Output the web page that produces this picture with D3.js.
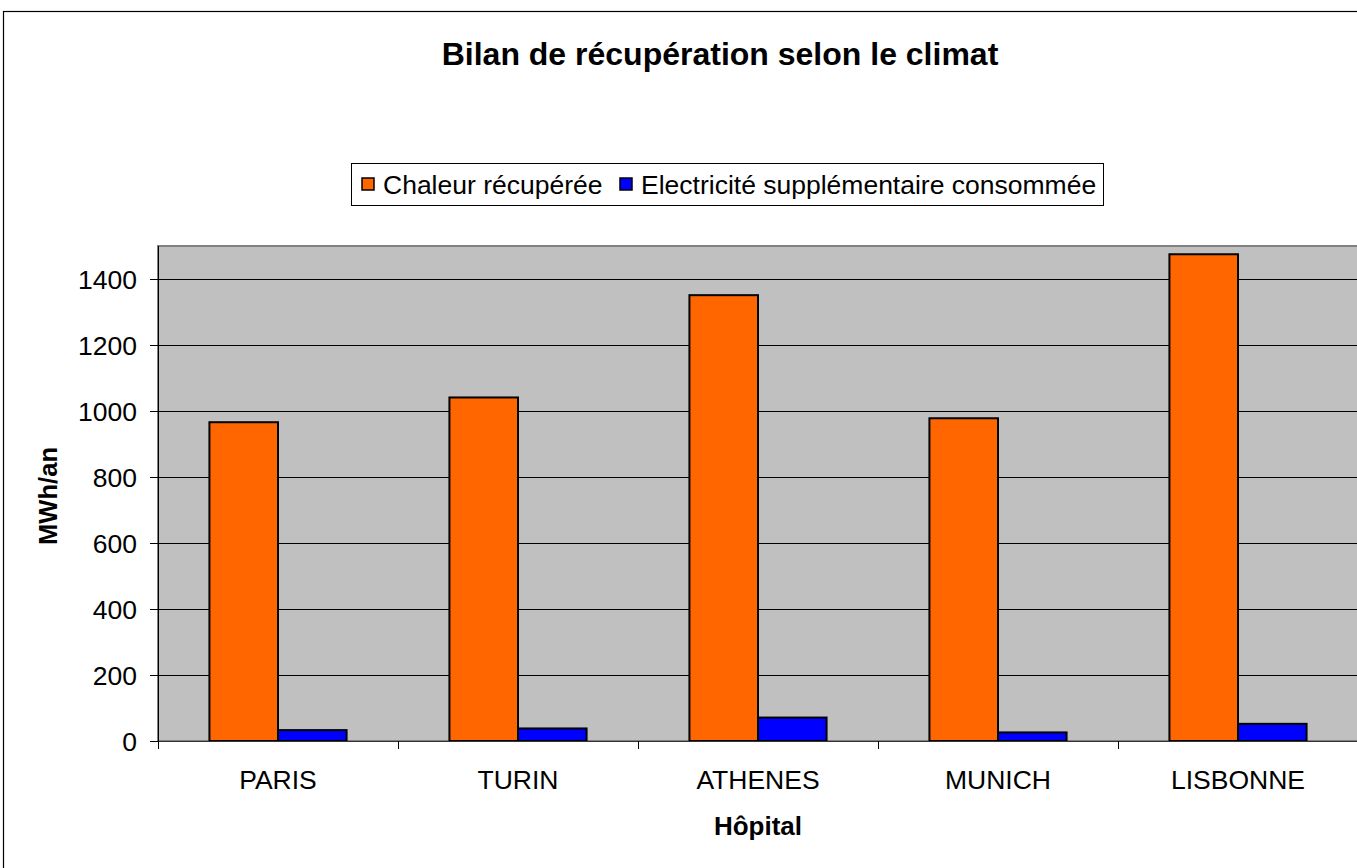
<!DOCTYPE html>
<html>
<head>
<meta charset="utf-8">
<script src="https://cdn.jsdelivr.net/npm/d3@7"></script>
<style>
  html, body { margin: 0; padding: 0; background: #fff; }
  svg { display: block; font-family: "Liberation Sans", Arial, sans-serif; }
</style>
</head>
<body>
<div id="chart"></div>
<script>
const categories = ["PARIS", "TURIN", "ATHENES", "MUNICH", "LISBONNE"];
const seriesNames = ["Chaleur récupérée", "Electricité supplémentaire consommée"];
const chaleur = [966, 1041, 1351, 978, 1475];
const electricite = [33, 38, 71, 26, 52];
const yTicks = [0, 200, 400, 600, 800, 1000, 1200, 1400];
const seriesColors = ["#ff6600", "#0000ff"];

const W = 1357, H = 868;
const margin = {left: 158, top: 246, right: -1, bottom: 127};
const FS = 26.5;

const svg = d3.select("#chart").append("svg")
    .attr("width", W)
    .attr("height", H);

// outer chart border
svg.append("rect")
    .attr("x", 3.5).attr("y", 11.5)
    .attr("width", W + 20).attr("height", H + 20)
    .attr("fill", "#fff")
    .attr("stroke", "#000")
    .attr("stroke-width", 1.2);

const x = d3.scaleBand()
    .domain(categories)
    .range([margin.left, W - margin.right]);

const xInner = d3.scaleBand()
    .domain(seriesNames)
    .range([0, x.bandwidth()])
    .paddingInner(0)
    .paddingOuter(0.75);

const y = d3.scaleLinear()
    .domain([0, 1500])
    .range([H - margin.bottom, margin.top]);

const rows = categories.map((c, i) => ({
    cat: c,
    values: [
        {name: seriesNames[0], value: chaleur[i]},
        {name: seriesNames[1], value: electricite[i]}
    ]
}));

// plot area
svg.append("rect")
    .attr("x", x.range()[0]).attr("y", y(1500))
    .attr("width", x.range()[1] - x.range()[0])
    .attr("height", y(0) - y(1500))
    .attr("fill", "#c0c0c0")
    .attr("stroke", "#808080")
    .attr("stroke-width", 2);

// gridlines
svg.append("g")
    .selectAll("line")
    .data(yTicks.filter(d => d > 0))
    .enter()
        .append("line")
        .attr("x1", x.range()[0]).attr("x2", x.range()[1])
        .attr("y1", d => Math.round(y(d)) + 0.5)
        .attr("y2", d => Math.round(y(d)) + 0.5)
        .attr("stroke", "#000")
        .attr("stroke-width", 1);

// bars
const groups = svg.append("g")
    .selectAll("g")
    .data(rows)
    .enter()
        .append("g")
        .attr("transform", d => `translate(${x(d.cat)},0)`);

groups.selectAll("rect")
    .data(d => d.values)
    .enter()
        .append("rect")
        .attr("x", d => xInner(d.name))
        .attr("y", d => y(d.value))
        .attr("width", xInner.bandwidth())
        .attr("height", d => y(0) - y(d.value))
        .attr("fill", (d, i) => seriesColors[i])
        .attr("stroke", "#000")
        .attr("stroke-width", 2);

// axes
const axisG = svg.append("g");
axisG.append("line")
    .attr("x1", x.range()[0] + 0.5).attr("x2", x.range()[0] + 0.5)
    .attr("y1", y(1500)).attr("y2", y(0))
    .attr("stroke", "#000");
axisG.append("line")
    .attr("x1", x.range()[0]).attr("x2", x.range()[1])
    .attr("y1", y(0) + 0.5).attr("y2", y(0) + 0.5)
    .attr("stroke", "#333");

// y ticks + labels
axisG.selectAll(".ytick")
    .data(yTicks)
    .enter()
        .append("line")
        .attr("x1", x.range()[0] - 8).attr("x2", x.range()[0])
        .attr("y1", d => Math.round(y(d)) + 0.5)
        .attr("y2", d => Math.round(y(d)) + 0.5)
        .attr("stroke", "#000");

axisG.selectAll(".ylabel")
    .data(yTicks)
    .enter()
        .append("text")
        .attr("text-anchor", "end")
        .attr("font-size", FS)
        .attr("x", 137)
        .attr("y", d => y(d) + 9.5)
        .text(d => d);

// x ticks at band boundaries
const xBounds = categories.map(c => x(c)).concat([x.range()[1]]);
axisG.selectAll(".xtick")
    .data(xBounds)
    .enter()
        .append("line")
        .attr("x1", d => Math.round(d) + 0.5).attr("x2", d => Math.round(d) + 0.5)
        .attr("y1", y(0)).attr("y2", y(0) + 8)
        .attr("stroke", "#000");

axisG.selectAll(".xlabel")
    .data(categories)
    .enter()
        .append("text")
        .attr("text-anchor", "middle")
        .attr("font-size", FS)
        .attr("x", d => x(d) + x.bandwidth() / 2)
        .attr("y", 789)
        .text(d => d);

// axis titles
svg.append("text")
    .attr("x", (x.range()[0] + x.range()[1]) / 2)
    .attr("y", 835)
    .attr("text-anchor", "middle")
    .attr("font-size", 26)
    .attr("font-weight", "bold")
    .text("Hôpital");

svg.append("text")
    .attr("transform", "translate(57,496) rotate(-90)")
    .attr("text-anchor", "middle")
    .attr("font-size", 25.6)
    .attr("font-weight", "bold")
    .text("MWh/an");

// title
svg.append("text")
    .attr("x", 720)
    .attr("y", 65)
    .attr("text-anchor", "middle")
    .attr("font-size", 32)
    .attr("font-weight", "bold")
    .text("Bilan de récupération selon le climat");

// legend
const legend = svg.append("g");
legend.append("rect")
    .attr("x", 351.5).attr("y", 163.5)
    .attr("width", 752).attr("height", 42)
    .attr("fill", "#fff")
    .attr("stroke", "#000");

const legendX = [362, 620];
const items = legend.selectAll("g")
    .data(seriesNames)
    .enter()
        .append("g")
        .attr("transform", (d, i) => `translate(${legendX[i]},178)`);

items.append("rect")
    .attr("width", 12).attr("height", 12)
    .attr("fill", (d, i) => seriesColors[i])
    .attr("stroke", "#000")
    .attr("stroke-width", 1.5);

items.append("text")
    .attr("font-size", FS)
    .attr("x", 21)
    .attr("y", 15.5)
    .text(d => d);
</script>
</body>
</html>
